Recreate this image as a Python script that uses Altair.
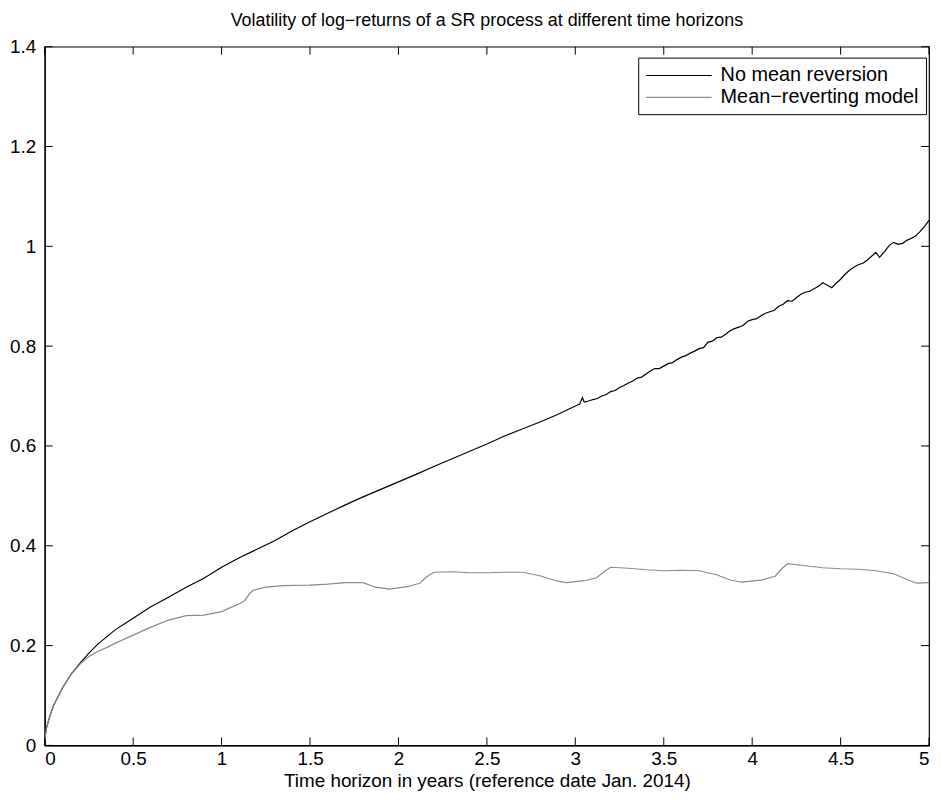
import altair as alt
import pandas as pd

# ---- data ----
nmr_t = [0, 0.01, 0.03, 0.05, 0.1, 0.15, 0.2, 0.25, 0.3, 0.4, 0.5, 0.6, 0.7, 0.8, 0.9,
         1.0, 1.1, 1.2, 1.3, 1.4, 1.5, 1.6, 1.7, 1.8, 1.9, 2.0, 2.1, 2.2, 2.3, 2.4,
         2.5, 2.6, 2.7, 2.8, 2.9,
         3.000, 3.025, 3.040, 3.050, 3.075, 3.100, 3.125, 3.150, 3.175, 3.200, 3.225,
         3.250, 3.275, 3.300, 3.325, 3.350, 3.375, 3.400, 3.425, 3.450, 3.475, 3.500,
         3.525, 3.550, 3.575, 3.600, 3.625, 3.650, 3.675, 3.700, 3.725, 3.750, 3.775,
         3.800, 3.825, 3.850, 3.875, 3.900, 3.925, 3.950, 3.975, 4.000, 4.025, 4.050,
         4.075, 4.100, 4.125, 4.150, 4.175, 4.200, 4.225, 4.250, 4.275, 4.300, 4.325,
         4.350, 4.375, 4.400, 4.425, 4.450, 4.475, 4.500, 4.525, 4.550, 4.575, 4.600,
         4.625, 4.650, 4.675, 4.700, 4.720, 4.750, 4.775, 4.800, 4.825, 4.850, 4.875,
         4.900, 4.925, 4.950, 4.975, 5.000]
nmr_v = [0.01, 0.035, 0.06, 0.08, 0.115, 0.143, 0.165, 0.185, 0.203, 0.232, 0.255, 0.278,
         0.297, 0.317, 0.335, 0.357, 0.376, 0.393, 0.41, 0.43, 0.448, 0.465, 0.482, 0.498,
         0.513, 0.528, 0.543, 0.559, 0.574, 0.589, 0.604, 0.620, 0.634, 0.648, 0.663,
         0.680, 0.684, 0.697, 0.688, 0.690, 0.693, 0.695, 0.700, 0.703, 0.709, 0.711,
         0.717, 0.721, 0.726, 0.730, 0.736, 0.738, 0.744, 0.750, 0.755, 0.755, 0.760,
         0.765, 0.767, 0.773, 0.778, 0.781, 0.786, 0.790, 0.795, 0.797, 0.808, 0.810,
         0.817, 0.818, 0.824, 0.831, 0.835, 0.838, 0.842, 0.850, 0.853, 0.855, 0.861,
         0.866, 0.869, 0.872, 0.880, 0.884, 0.891, 0.890, 0.897, 0.904, 0.908, 0.910,
         0.915, 0.920, 0.927, 0.922, 0.917, 0.926, 0.934, 0.944, 0.952, 0.958, 0.963,
         0.966, 0.972, 0.980, 0.988, 0.978, 0.990, 1.002, 1.008, 1.004, 1.006, 1.012,
         1.016, 1.021, 1.030, 1.040, 1.052]

mr_t = [0, 0.01, 0.03, 0.05, 0.1, 0.15, 0.2, 0.25, 0.3, 0.35, 0.4, 0.5, 0.6, 0.7, 0.8,
        0.9, 1.0, 1.05, 1.1, 1.13, 1.16, 1.18, 1.25, 1.35, 1.5, 1.6, 1.7, 1.8, 1.87,
        1.95, 2.05, 2.12, 2.16, 2.2, 2.3, 2.4, 2.5, 2.6, 2.7, 2.8, 2.9, 2.95, 3.05,
        3.12, 3.17, 3.2, 3.3, 3.4, 3.5, 3.6, 3.7, 3.8, 3.87, 3.94, 4.05, 4.13, 4.17,
        4.2, 4.3, 4.4, 4.5, 4.6, 4.7, 4.8, 4.88, 4.93, 5.0]
mr_v = [0.01, 0.035, 0.06, 0.08, 0.115, 0.143, 0.163, 0.178, 0.188, 0.196, 0.205, 0.221,
        0.237, 0.251, 0.260, 0.261, 0.268, 0.276, 0.284, 0.290, 0.305, 0.311, 0.317,
        0.320, 0.321, 0.323, 0.326, 0.326, 0.317, 0.313, 0.318, 0.325, 0.338, 0.347,
        0.348, 0.346, 0.346, 0.347, 0.347, 0.340, 0.329, 0.326, 0.330, 0.336, 0.350,
        0.357, 0.355, 0.352, 0.350, 0.351, 0.350, 0.342, 0.332, 0.327, 0.331, 0.339,
        0.355, 0.364, 0.360, 0.356, 0.354, 0.353, 0.350, 0.344, 0.332, 0.325, 0.326]

series_names = ["No mean reversion", "Mean\u2212reverting model"]
series_colors = ["#000000", "#8a8a8a"]
x_ticks = [0, 0.5, 1, 1.5, 2, 2.5, 3, 3.5, 4, 4.5, 5]
y_ticks = [0, 0.2, 0.4, 0.6, 0.8, 1.0, 1.2, 1.4]

W, H = 891, 704
FONT = "Liberation Sans"
FS = 19
TL = 8  # inward tick length

df = pd.concat([
    pd.DataFrame({"t": nmr_t, "v": nmr_v, "series": series_names[0], "order": range(len(nmr_t))}),
    pd.DataFrame({"t": mr_t, "v": mr_v, "series": series_names[1], "order": range(len(mr_t))}),
])
xt = pd.DataFrame({"x": x_ticks})
yt = pd.DataFrame({"y": y_ticks})

xs = alt.Scale(domain=[0, 5], nice=False, zero=False)
ys = alt.Scale(domain=[0, 1.4], nice=False, zero=False)

lines = alt.Chart(df).mark_line(strokeWidth=1.2, interpolate="linear").encode(
    x=alt.X("t:Q", scale=xs,
            axis=alt.Axis(values=x_ticks, format="~g", tickSize=0, labelPadding=4,
                          title="Time horizon in years (reference date Jan. 2014)",
                          titlePadding=3)),
    y=alt.Y("v:Q", scale=ys,
            axis=alt.Axis(values=y_ticks, format="~g", tickSize=0, labelPadding=9,
                          title=None)),
    color=alt.Color("series:N",
                    scale=alt.Scale(domain=series_names, range=series_colors),
                    legend=alt.Legend(title=None, orient="none", legendX=598, legendY=11,
                                      symbolType="M-1,0H5.6", symbolSize=400,
                                      symbolStrokeWidth=1.2, labelFontSize=20,
                                      labelFont=FONT, labelColor="black",
                                      labelOffset=54, labelLimit=400, rowPadding=1,
                                      padding=7, strokeColor="black", fillColor="white",
                                      cornerRadius=0)),
    order="order:Q",
)

bottom = alt.Chart(xt).mark_rule(color="black", strokeWidth=1).encode(
    x=alt.X("x:Q", scale=xs), y=alt.value(H), y2=alt.value(H - TL))
top = alt.Chart(xt).mark_rule(color="black", strokeWidth=1).encode(
    x=alt.X("x:Q", scale=xs), y=alt.value(0), y2=alt.value(TL))
left = alt.Chart(yt).mark_rule(color="black", strokeWidth=1).encode(
    y=alt.Y("y:Q", scale=ys), x=alt.value(0), x2=alt.value(TL))
right = alt.Chart(yt).mark_rule(color="black", strokeWidth=1).encode(
    y=alt.Y("y:Q", scale=ys), x=alt.value(W), x2=alt.value(W - TL))

chart = alt.layer(lines, bottom, top, left, right).properties(
    width=W, height=H,
    background="white",
    title=alt.TitleParams("Volatility of log\u2212returns of a SR process at different time horizons",
                          font=FONT, fontSize=18, fontWeight="normal", color="black",
                          anchor="middle", offset=8),
    autosize=alt.AutoSizeParams(type="none"),
    padding={"left": 37, "top": 36, "right": 4, "bottom": 50},
).configure_view(stroke="black", strokeWidth=1.2).configure_axis(
    grid=False, domainColor="black", domainWidth=1.2, labelFont=FONT, labelFontSize=FS,
    labelColor="black", titleFont=FONT, titleFontSize=FS, titleFontWeight="normal",
    titleColor="black",
)

chart.save("out.html", embed_options={"renderer": "svg", "actions": False})
